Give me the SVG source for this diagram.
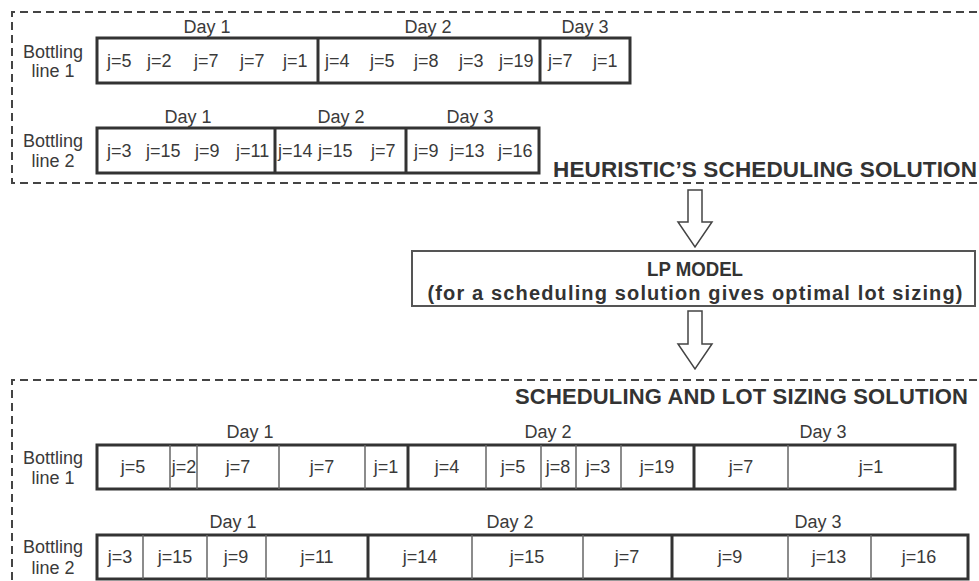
<svg xmlns="http://www.w3.org/2000/svg" width="979" height="581" viewBox="0 0 979 581">
<style>
.t{font-family:"Liberation Sans",Arial,sans-serif;font-size:18px;fill:#3a3a3a}
.m{text-anchor:middle}
.h{font-family:"Liberation Sans",Arial,sans-serif;font-size:22.5px;font-weight:bold;fill:#333}
.dash{fill:none;stroke:#444;stroke-width:2;stroke-dasharray:8 5}
.box{fill:#fff;stroke:#333;stroke-width:3}
.day{stroke:#333;stroke-width:3}
.cell{stroke:#666;stroke-width:1.5}
.arrow{fill:#fff;stroke:#444;stroke-width:1.5}
</style>
<rect width="979" height="581" fill="#fff"/>
<g id="heuristic">
<path class="dash" d="M990,12 H12 V183 H990"/>
<g id="h-line1">
<text class="t m" x="53" y="58">Bottling</text><text class="t m" x="53" y="77">line 1</text>
<text class="t m" x="207" y="33">Day 1</text><text class="t m" x="428" y="33">Day 2</text><text class="t m" x="585" y="33">Day 3</text>
<rect class="box" x="97" y="38" width="533" height="45"/>
<line class="day" x1="318" y1="38" x2="318" y2="83"/><line class="day" x1="540" y1="38" x2="540" y2="83"/>
<text class="t" x="107" y="67">j=5</text><text class="t" x="147" y="67">j=2</text><text class="t" x="194" y="67">j=7</text><text class="t" x="240" y="67">j=7</text><text class="t" x="283" y="67">j=1</text>
<text class="t" x="325" y="67">j=4</text><text class="t" x="370" y="67">j=5</text><text class="t" x="414" y="67">j=8</text><text class="t" x="459" y="67">j=3</text><text class="t" x="499" y="67">j=19</text>
<text class="t" x="548" y="67">j=7</text><text class="t" x="593" y="67">j=1</text>
</g>
<g id="h-line2">
<text class="t m" x="53" y="147">Bottling</text><text class="t m" x="53" y="167">line 2</text>
<text class="t m" x="188" y="123">Day 1</text><text class="t m" x="341" y="123">Day 2</text><text class="t m" x="470" y="123">Day 3</text>
<rect class="box" x="97" y="128" width="442" height="45"/>
<line class="day" x1="275" y1="128" x2="275" y2="173"/><line class="day" x1="406" y1="128" x2="406" y2="173"/>
<text class="t" x="107" y="157">j=3</text><text class="t" x="146" y="157">j=15</text><text class="t" x="195" y="157">j=9</text><text class="t" x="236" y="157">j=11</text>
<text class="t" x="278" y="157">j=14</text><text class="t" x="318" y="157">j=15</text><text class="t" x="371" y="157">j=7</text>
<text class="t" x="414" y="157">j=9</text><text class="t" x="450" y="157">j=13</text><text class="t" x="498" y="157">j=16</text>
</g>
<text class="h" x="553" y="177" textLength="424">HEURISTIC’S SCHEDULING SOLUTION</text>
</g>
<g id="connectors">
<path class="arrow" d="M688,190 H702 V222 H712 L695,247 L678,222 H688 Z"/>
<path class="arrow" d="M688,311 H702 V344 H712 L695,369 L678,344 H688 Z"/>
</g>
<g id="lp-model">
<rect x="412" y="251" width="563" height="55" fill="#fff" stroke="#555" stroke-width="2"/>
<text class="h m" x="695" y="276" style="font-size:21px" textLength="96" lengthAdjust="spacingAndGlyphs">LP MODEL</text>
<text class="h m" x="695" y="300" style="font-size:20px" textLength="535">(for a scheduling solution gives optimal lot sizing)</text>
</g>
<g id="solution">
<path class="dash" d="M990,380 H12 V590"/>
<text class="h" x="515" y="404" style="font-size:22px" textLength="453">SCHEDULING AND LOT SIZING SOLUTION</text>
<g id="s-line1">
<text class="t m" x="53" y="464">Bottling</text><text class="t m" x="53" y="484">line 1</text>
<text class="t m" x="250" y="438">Day 1</text><text class="t m" x="548" y="438">Day 2</text><text class="t m" x="823" y="438">Day 3</text>
<rect class="box" x="97" y="445" width="858" height="44"/>
<g class="cell"><line x1="170" y1="445" x2="170" y2="489"/><line x1="197" y1="445" x2="197" y2="489"/><line x1="279" y1="445" x2="279" y2="489"/><line x1="365" y1="445" x2="365" y2="489"/><line x1="486" y1="445" x2="486" y2="489"/><line x1="541" y1="445" x2="541" y2="489"/><line x1="576" y1="445" x2="576" y2="489"/><line x1="621" y1="445" x2="621" y2="489"/><line x1="788" y1="445" x2="788" y2="489"/></g>
<line class="day" x1="408" y1="445" x2="408" y2="489"/><line class="day" x1="694" y1="445" x2="694" y2="489"/>
<text class="t m" x="133" y="473">j=5</text><text class="t m" x="184" y="473">j=2</text><text class="t m" x="238" y="473">j=7</text><text class="t m" x="322" y="473">j=7</text><text class="t m" x="386" y="473">j=1</text>
<text class="t m" x="447" y="473">j=4</text><text class="t m" x="513" y="473">j=5</text><text class="t m" x="558" y="473">j=8</text><text class="t m" x="598" y="473">j=3</text><text class="t m" x="657" y="473">j=19</text>
<text class="t m" x="741" y="473">j=7</text><text class="t m" x="871" y="473">j=1</text>
</g>
<g id="s-line2">
<text class="t m" x="53" y="553">Bottling</text><text class="t m" x="53" y="574">line 2</text>
<text class="t m" x="233" y="528">Day 1</text><text class="t m" x="510" y="528">Day 2</text><text class="t m" x="818" y="528">Day 3</text>
<rect class="box" x="97" y="535" width="871" height="44"/>
<g class="cell"><line x1="143" y1="535" x2="143" y2="579"/><line x1="207" y1="535" x2="207" y2="579"/><line x1="266" y1="535" x2="266" y2="579"/><line x1="472" y1="535" x2="472" y2="579"/><line x1="583" y1="535" x2="583" y2="579"/><line x1="788" y1="535" x2="788" y2="579"/><line x1="871" y1="535" x2="871" y2="579"/></g>
<line class="day" x1="368" y1="535" x2="368" y2="579"/><line class="day" x1="672" y1="535" x2="672" y2="579"/>
<text class="t m" x="120" y="563">j=3</text><text class="t m" x="175" y="563">j=15</text><text class="t m" x="236" y="563">j=9</text><text class="t m" x="317" y="563">j=11</text>
<text class="t m" x="420" y="563">j=14</text><text class="t m" x="527" y="563">j=15</text><text class="t m" x="627" y="563">j=7</text>
<text class="t m" x="730" y="563">j=9</text><text class="t m" x="829" y="563">j=13</text><text class="t m" x="919" y="563">j=16</text>
</g>
</g>
</svg>
